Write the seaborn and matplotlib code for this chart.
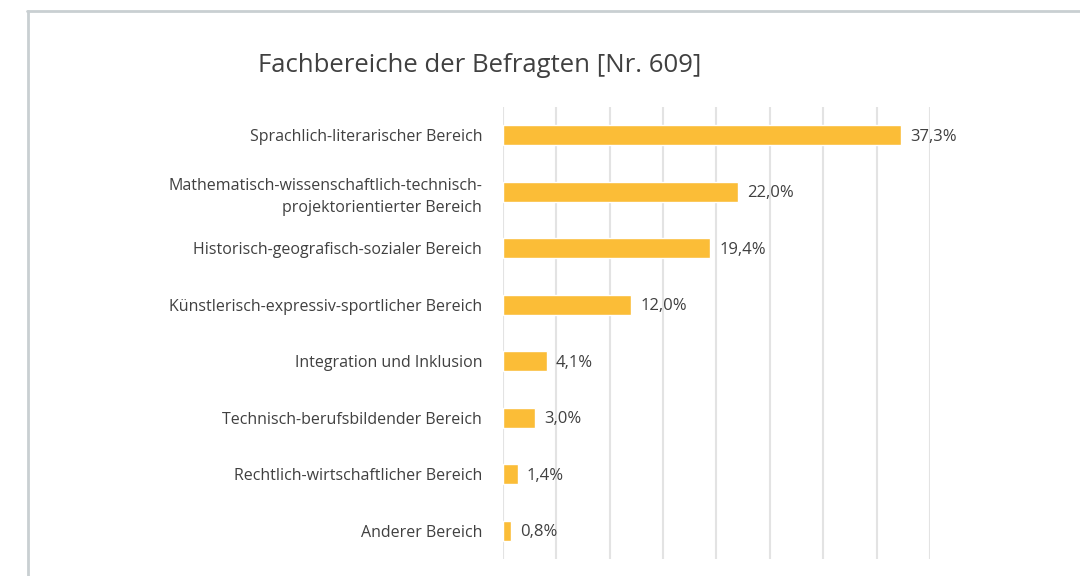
import matplotlib
matplotlib.use("Agg")
import matplotlib.pyplot as plt
import seaborn as sns
import pandas as pd
from matplotlib.lines import Line2D

# values
categories = [
    "Sprachlich-literarischer Bereich",
    "Mathematisch-wissenschaftlich-technisch-\nprojektorientierter Bereich",
    "Historisch-geografisch-sozialer Bereich",
    "Künstlerisch-expressiv-sportlicher Bereich",
    "Integration und Inklusion",
    "Technisch-berufsbildender Bereich",
    "Rechtlich-wirtschaftlicher Bereich",
    "Anderer Bereich",
]
shares = [37.3, 22.0, 19.4, 12.0, 4.1, 3.0, 1.4, 0.8]
x_ticks = [0, 5, 10, 15, 20, 25, 30, 35, 40]

df = pd.DataFrame({"bereich": categories, "anteil": shares})

sns.set_theme(style="white")
plt.rcParams["font.family"] = ["Open Sans", "DejaVu Sans"]
text_col = "#404040"
bar_col = "#FBBD37"

fig = plt.figure(figsize=(10.8, 5.76), dpi=100)
ax = fig.add_axes([0.4657, 0.0295, 0.8611 - 0.4657, 0.8142 - 0.0295])

sns.barplot(data=df, x="anteil", y="bereich", orient="h", color=bar_col,
            saturation=1, width=0.35, ax=ax)

ax.set_xlim(0, 40)
ax.set_ylim(len(categories) - 0.5, -0.5)
ax.set_xticks(x_ticks)
ax.set_xticklabels([])
ax.tick_params(axis="x", length=0)
ax.tick_params(axis="y", length=0, pad=15, labelsize=11.5, labelcolor=text_col)
for lbl in ax.get_yticklabels():
    lbl.set_linespacing(1.55)
ax.xaxis.grid(True, color="#e3e3e3", linewidth=1.5)
ax.set_axisbelow(True)
for s in ax.spines.values():
    s.set_visible(False)
ax.set_xlabel("")
ax.set_ylabel("")

# value labels with German decimal comma
for i, v in enumerate(shares):
    ax.annotate(f"{v:.1f}%".replace(".", ","), xy=(v, i), xytext=(6.5, -1),
                textcoords="offset points", va="center", ha="left",
                fontsize=12, color=text_col)

fig.text(0.239, 0.886, "Fachbereiche der Befragten [Nr. 609]",
         fontsize=18.5, color=text_col, ha="left", va="center")

# card frame (left and top border)
frame_col = "#c9cfd2"
fig.add_artist(Line2D([0.026, 0.026], [0, 0.981], color=frame_col,
                      linewidth=2, transform=fig.transFigure))
fig.add_artist(Line2D([0.025, 1.0], [0.981, 0.981], color=frame_col,
                      linewidth=2, transform=fig.transFigure))

fig.savefig("out.png", dpi=100)
